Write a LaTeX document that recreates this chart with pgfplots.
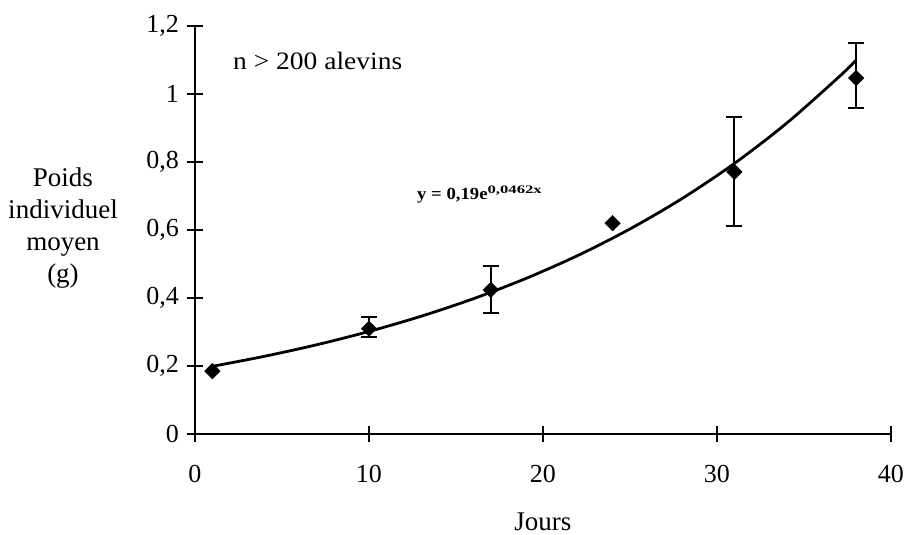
\documentclass[border=0pt]{standalone}
\usepackage{fontspec}
\setmainfont{Liberation Serif}
\newfontfamily\widefont{Liberation Serif}[FakeStretch=1.1]
\newfontfamily\eqfont{Liberation Serif Bold}[FakeStretch=1.1]
\newfontfamily\supfont{Liberation Serif Bold}[FakeStretch=1.45]
\usepackage{pgfplots}
\pgfplotsset{compat=1.18}
\begin{document}
\begin{tikzpicture}
\useasboundingbox (-195pt,-101pt) rectangle (711pt,434pt);
\begin{axis}[
  scale only axis, width=696pt, height=408pt,
  at={(0pt,0pt)}, anchor=south west,
  xmin=0, xmax=40, ymin=0, ymax=1.2,
  axis x line=bottom, axis y line=left,
  axis line style={-, line width=1.5pt, black},
  tick align=center, major tick length=16pt,
  tick style={line width=1.3pt, black},
  xtick={0,10,20,30,40}, ytick={0,0.2,0.4,0.6,0.8,1,1.2},
  minor tick num=0,
  /pgf/number format/assume math mode=true,
  /pgf/number format/use comma, /pgf/number format/fixed,
  tick label style={font=\fontsize{26}{30}\selectfont},
  yticklabel style={anchor=east, inner sep=0pt, xshift=-8pt},
  xticklabel style={anchor=north, inner sep=0pt, yshift=-23pt},
  xlabel={Jours},
  xlabel style={at={(axis description cs:0.5,0)}, anchor=north, inner sep=0pt, yshift=-79pt, font=\fontsize{27}{32}\selectfont},
  clip=false,
]
% fitted curve y = 0.19 exp(0.0462 x), values read as plain numbers
\addplot[smooth, line width=2.8pt, black] coordinates {
  (1,0.1990) (4,0.2286) (7,0.2625) (10,0.3016) (13,0.3464) (16,0.3979)
  (19,0.4571) (22,0.5250) (25,0.6031) (28,0.6927) (31,0.7957) (34,0.9140)
  (37,1.0499) (38,1.0995)
};
% points without error bars
\addplot[only marks, mark=square*, mark size=5.5pt, mark options={rotate=45, fill=black, draw=black}] coordinates {
  (1,0.185) (24,0.62)
};
% points with error bars
\addplot[only marks, mark=square*, mark size=5.5pt, mark options={rotate=45, fill=black, draw=black},
  error bars/.cd, y dir=both, y explicit,
  error bar style={line width=2pt, black},
  error mark options={rotate=90, mark size=8pt, line width=2pt, black}] coordinates {
  (10,0.31) += (0,0.034) -= (0,0.025)
  (17,0.424) += (0,0.070) -= (0,0.068)
  (31,0.771) += (0,0.161) -= (0,0.159)
  (38,1.047) += (0,0.103) -= (0,0.088)
};
\node[anchor=base west, inner sep=0pt, font=\widefont\fontsize{25}{29}\selectfont] at (rel axis cs:0,0) [xshift=38pt, yshift=364pt] {n > 200 alevins};
\node[anchor=base west, inner sep=0pt] at (rel axis cs:0,0) [xshift=222pt, yshift=234pt] {{\eqfont\fontsize{17}{19}\selectfont y = 0,19e}\raisebox{6.5pt}{\supfont\fontsize{11.5}{13}\selectfont 0,0462x}};
\node[align=center, anchor=center, inner sep=0pt, font=\fontsize{27}{32}\selectfont] at (rel axis cs:0,0) [xshift=-132pt, yshift=206pt] {Poids\\individuel\\moyen\\(g)};
\end{axis}
\end{tikzpicture}
\end{document}
